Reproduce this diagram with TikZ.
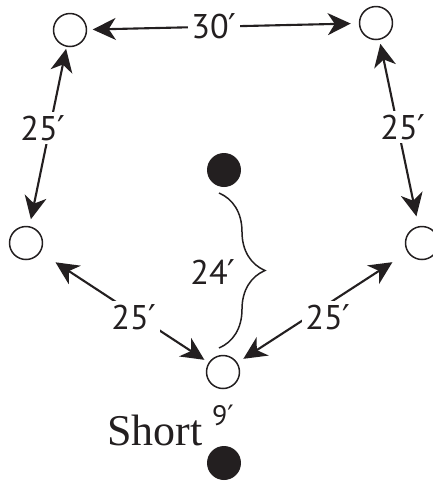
\documentclass[tikz,border=0pt]{standalone}
\usepackage{fontspec}
\setmainfont{Liberation Serif}
\setsansfont{PT Sans}
\newfontfamily\primefont{DejaVu Sans}
\newcommand{\ft}{{\primefont ′}}
\usetikzlibrary{arrows.meta,positioning,decorations.pathreplacing}
\definecolor{ink}{RGB}{35,31,32}

\begin{document}
\begin{tikzpicture}[
    x=0.02cm, y=-0.02cm,
    post/.style={circle, draw=ink, line width=0.85pt, fill=white, minimum size=0.66cm, inner sep=0pt},
    ball/.style={circle, fill=ink, minimum size=0.68cm, inner sep=0pt},
    dist/.style={fill=white, text=ink, inner sep=2pt, font=\sffamily\fontsize{19.5}{22}\selectfont},
    arrow/.style={{Stealth[length=0.46cm, width=0.44cm, inset=0.14cm]}-{Stealth[length=0.46cm, width=0.44cm, inset=0.14cm]}, line width=1.2pt, ink},
]
\useasboundingbox (0,0) rectangle (433,481);

% --- Cones ---
\node[post] (tl) at (70,30) {};
\node[post] (tr) at (376,23) {};
\node[post] (ml) at (26,243) {};
\node[post] (mr) at (422,243) {};
\node[post] (bc) at (223,372) {};

% --- Balls ---
\node[ball] (top) at (224,170) {};
\node[ball] (bot) at (224,463) {};

% --- Distances ---
\draw[arrow, shorten <=0.11cm, shorten >=0.16cm] (tl) -- (tr);
\draw[arrow, shorten <=0.04cm, shorten >=0.14cm] (tl) -- (ml);
\draw[arrow, shorten <=0.08cm, shorten >=0.2cm] (tr) -- (mr);
\draw[arrow, shorten <=0.36cm, shorten >=0.1cm] (ml) -- (bc);
\draw[arrow, shorten <=0.36cm, shorten >=0.14cm] (mr) -- (bc);

\node[dist] (d30) at (214,26) {30\ft};
\node[dist] (dl) at (43,128) {25\ft};
\node[dist] (dr) at (403,127) {25\ft};
\node[dist] (dbl) at (134,317) {25\ft};
\node[dist] (dbr) at (328,317) {25\ft};

% Brace between ball and cone
\coordinate (bracetop) at (219,193);
\coordinate (bracebot) at (219,348);
\draw[ink, line width=0.85pt, decorate, decoration={brace, amplitude=0.92cm}] (bracetop) -- (bracebot);
\node[dist, fill=none] (d24) at (213,272) {24\ft};

% Short
\node[dist, fill=none, font=\sffamily\fontsize{16}{18}\selectfont] (d9) at (223,415) {9\ft};
\node[text=ink, font=\fontsize{25}{28}\selectfont, inner sep=0pt] (short) at (155,430) {Short};

\end{tikzpicture}
\end{document}
